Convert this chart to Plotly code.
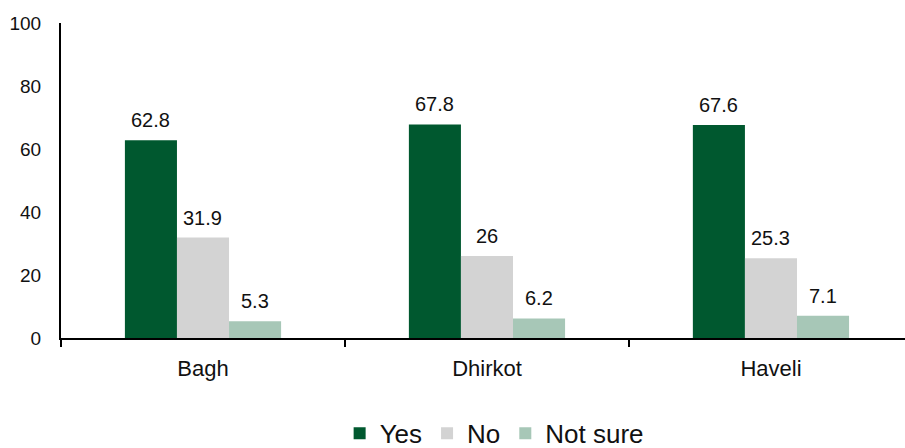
import plotly.graph_objects as go

categories = ["Bagh", "Dhirkot", "Haveli"]
yes_vals = [62.8, 67.8, 67.6]
no_vals = [31.9, 26, 25.3]
notsure_vals = [5.3, 6.2, 7.1]
series_names = ["Yes", "No", "Not sure"]
colors = ["#00582F", "#D3D3D3", "#A7C7B7"]

BARGAP = 0.45
series = [yes_vals, no_vals, notsure_vals]
n_series = len(series)
bar_w = (1 - BARGAP) / n_series

fig = go.Figure()
for k, (name, vals, col) in enumerate(zip(series_names, series, colors)):
    fig.add_trace(go.Bar(
        x=categories, y=vals, name=name,
        marker=dict(color=col, line=dict(width=0)),
    ))
    offset = (k - (n_series - 1) / 2) * bar_w
    for i, v in enumerate(vals):
        fig.add_annotation(
            x=i + offset, y=v, xref="x", yref="y",
            text=f"{v:g}", showarrow=False, yanchor="bottom", yshift=7,
            font=dict(size=20, color="#111111"),
        )

fig.update_layout(
    width=905, height=448,
    margin=dict(l=61, r=0, t=23, b=110, autoexpand=False),
    paper_bgcolor="white", plot_bgcolor="white",
    font=dict(family="Liberation Sans, Arial, sans-serif", color="#111111"),
    barmode="group", bargap=BARGAP, bargroupgap=0,
    showlegend=True,
    legend=dict(orientation="h", xref="container", x=0.546, xanchor="center",
                yref="paper", y=-0.228, yanchor="top",
                font=dict(size=26), traceorder="normal", itemwidth=30),
    xaxis=dict(range=[-0.5, 2.472], showline=True, linecolor="black", linewidth=2,
               ticks="outside", tickson="boundaries", ticklen=7, tickwidth=2, tickcolor="black",
               tickfont=dict(size=22), showgrid=False, zeroline=False, ticklabelstandoff=10),
    yaxis=dict(range=[0, 100], dtick=20, showline=True, linecolor="black", linewidth=2,
               ticks="", tickfont=dict(size=19), showgrid=False, zeroline=False, ticklabelstandoff=14),
)

fig.write_html("out.html")
